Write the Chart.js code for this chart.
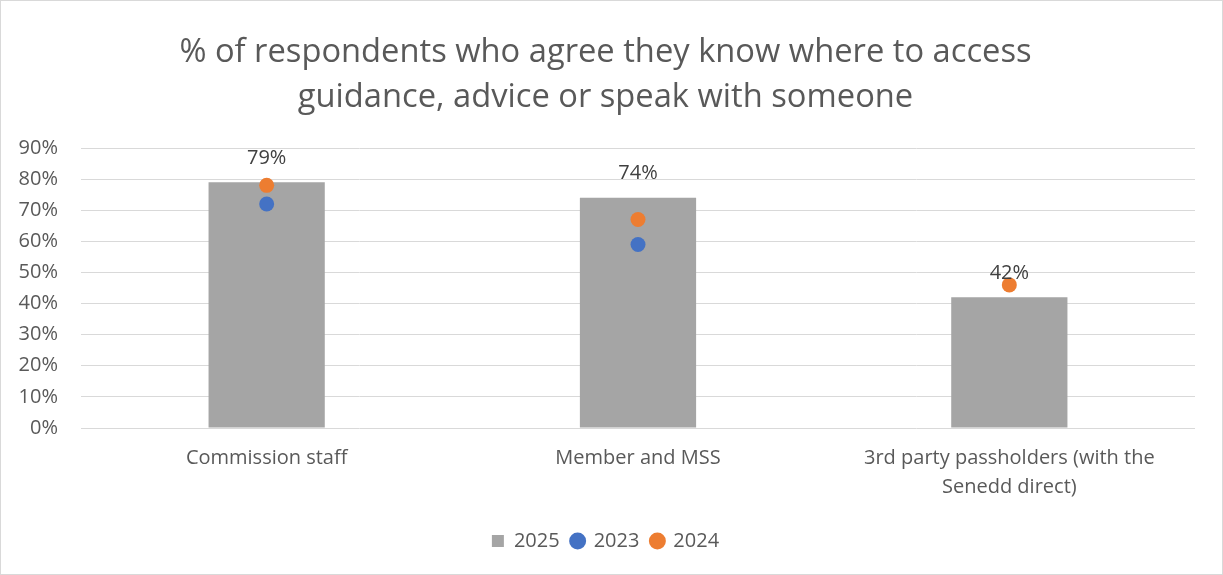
<!DOCTYPE html>
<html>
<head>
<meta charset="utf-8">
<script src="https://cdn.jsdelivr.net/npm/chart.js@4"></script>
<style>
  html, body { margin: 0; padding: 0; background: #fff; }
  canvas { display: block; }
</style>
</head>
<body>
<canvas id="chart" width="1223" height="575"></canvas>
<script>
// respondent groups and survey results (% agree)
var categories = [
    'Commission staff',
    'Member and MSS',
    ['3rd party passholders (with the', 'Senedd direct)']
];
var values2025 = [79, 74, 42];
var values2023 = [72, 59, null];
var values2024 = [78, 67, 46];
var yTicks = [0, 10, 20, 30, 40, 50, 60, 70, 80, 90];

var textColor = '#595959';
var fontFamily = '"Open Sans", sans-serif';

// value labels above the 2025 bars
var barLabels = {
    id: 'barLabels',
    afterDatasetsDraw: function (chart) {
        var ctx = chart.ctx;
        var meta = chart.getDatasetMeta(0);
        ctx.save();
        ctx.fillStyle = '#404040';
        ctx.font = '20px ' + fontFamily;
        ctx.textAlign = 'center';
        ctx.textBaseline = 'middle';
        meta.data.forEach(function (bar, i) {
            ctx.fillText(values2025[i] + '%', bar.x, bar.y - 24);
        });
        ctx.restore();
    }
};

// thin frame round the whole chart
var chartFrame = {
    id: 'chartFrame',
    afterDraw: function (chart) {
        var ctx = chart.ctx;
        ctx.save();
        ctx.strokeStyle = '#d9d9d9';
        ctx.lineWidth = 1;
        ctx.strokeRect(0.5, 0.5, chart.width - 1, chart.height - 1);
        ctx.restore();
    }
};

var chart = new Chart(document.getElementById('chart'), {
    type: 'bar',
    data: {
        labels: categories,
        datasets: [
            {
                label: '2025',
                data: values2025,
                backgroundColor: '#a5a5a5',
                barPercentage: 1,
                categoryPercentage: 0.313,
                order: 3
            },
            {
                label: '2023',
                type: 'line',
                data: values2023,
                showLine: false,
                pointRadius: 7.5,
                pointHoverRadius: 7.5,
                pointBackgroundColor: '#4472c4',
                pointBorderWidth: 0,
                backgroundColor: '#4472c4',
                borderColor: '#4472c4',
                order: 2
            },
            {
                label: '2024',
                type: 'line',
                data: values2024,
                showLine: false,
                pointRadius: 7.5,
                pointHoverRadius: 7.5,
                pointBackgroundColor: '#ed7d31',
                pointBorderWidth: 0,
                backgroundColor: '#ed7d31',
                borderColor: '#ed7d31',
                order: 1
            }
        ]
    },
    options: {
        responsive: false,
        animation: false,
        layout: { padding: { left: 16, right: 28, top: 0, bottom: 14 } },
        scales: {
            x: {
                grid: { display: false, drawTicks: false },
                border: { display: false },
                ticks: {
                    color: textColor,
                    font: { family: fontFamily, size: 20, lineHeight: '29px' },
                    padding: 16,
                    maxRotation: 0,
                    autoSkip: false
                },
                afterFit: function (scale) { scale.height = 91; }
            },
            y: {
                min: 0,
                max: 90,
                afterBuildTicks: function (scale) {
                    scale.ticks = yTicks.map(function (v) { return { value: v }; });
                },
                grid: { color: '#d9d9d9', lineWidth: 1, drawTicks: false },
                border: { display: false },
                ticks: {
                    color: textColor,
                    font: { family: fontFamily, size: 20 },
                    padding: 23,
                    callback: function (v) { return v + '%'; }
                },
                afterFit: function (scale) { scale.width = 65; }
            }
        },
        plugins: {
            title: {
                display: true,
                text: ['% of respondents who agree they know where to access',
                       'guidance, advice or speak with someone'],
                color: textColor,
                font: { family: fontFamily, size: 32.7, weight: 'normal', lineHeight: '45px' },
                padding: { top: 30, bottom: 28 }
            },
            legend: {
                position: 'bottom',
                labels: {
                    color: textColor,
                    font: { family: fontFamily, size: 20 },
                    usePointStyle: true,
                    boxWidth: 12,
                    boxHeight: 12,
                    padding: 12,
                    sort: function (a, b) { return a.datasetIndex - b.datasetIndex; },
                    generateLabels: function (chart) {
                        return chart.data.datasets.map(function (ds, i) {
                            return {
                                text: ds.label,
                                fillStyle: ds.backgroundColor,
                                strokeStyle: ds.backgroundColor,
                                lineWidth: 0,
                                pointStyle: i === 0 ? 'rect' : 'circle',
                                fontColor: textColor,
                                datasetIndex: i
                            };
                        });
                    }
                }
            },
            tooltip: { enabled: false }
        }
    },
    plugins: [barLabels, chartFrame]
});
</script>
</body>
</html>
